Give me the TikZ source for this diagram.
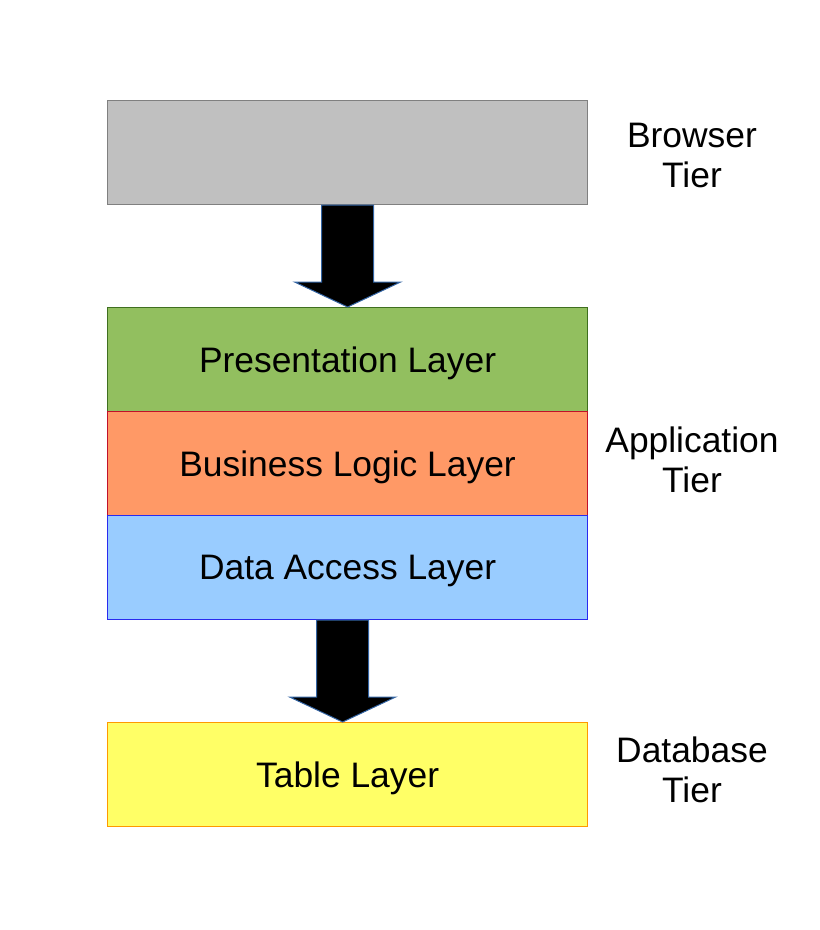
\documentclass[tikz,border=0pt]{standalone}
\usepackage{fontspec}
\setmainfont{Liberation Sans}
\usepackage{tikz}
\usetikzlibrary{calc}

\definecolor{browsergray}{HTML}{C0C0C0}
\definecolor{browseredge}{HTML}{808080}
\definecolor{presgreen}{HTML}{92BF5F}
\definecolor{presedge}{HTML}{3F6F1F}
\definecolor{bizorange}{HTML}{FF9966}
\definecolor{bizedge}{HTML}{C0102A}
\definecolor{datablue}{HTML}{99CCFF}
\definecolor{dataedge}{HTML}{2A2AEE}
\definecolor{tableyellow}{HTML}{FFFF66}
\definecolor{tableedge}{HTML}{FF9900}
\definecolor{arrowedge}{HTML}{3465A4}

\tikzset{
    layerbox/.style={draw, line width=1.2pt, minimum width=480pt, minimum height=104pt, inner sep=0pt, text depth=0pt, anchor=north west},
    tierlabel/.style={align=center},
    blockarrow/.style={fill=black, draw=arrowedge, line width=1pt, line join=miter}
}

\begin{document}
\begin{tikzpicture}[x=1pt, y=-1pt, font=\fontsize{35.4}{40}\selectfont]
    \useasboundingbox (0,0) rectangle (820,930);

    % Browser tier
    \node[layerbox, fill=browsergray, draw=browseredge] (browser) at (107,100) {};

    % Application tier layers
    \node[layerbox, fill=presgreen, draw=presedge] (pres) at (107,307) {Presentation Layer};
    \node[layerbox, fill=bizorange, draw=bizedge] (biz) at (107,411) {Business Logic Layer};
    \node[layerbox, fill=datablue, draw=dataedge] (data) at (107,515) {Data Access Layer};

    % Database tier
    \node[layerbox, fill=tableyellow, draw=tableedge] (table) at (107,722) {Table Layer};

    % Big arrows between the tiers
    \draw[blockarrow] ($(browser.south)+(-26,0)$) -- ($(browser.south)+(26,0)$)
        -- ($(pres.north)+(26,-25)$) -- ($(pres.north)+(53,-25)$)
        -- (pres.north) -- ($(pres.north)+(-53,-25)$)
        -- ($(pres.north)+(-26,-25)$) -- cycle;
    \draw[blockarrow] ($(data.south)+(-31,0)$) -- ($(data.south)+(21,0)$)
        -- ($(table.north)+(21,-25)$) -- ($(table.north)+(48,-25)$)
        -- ($(table.north)+(-5,0)$) -- ($(table.north)+(-58,-25)$)
        -- ($(table.north)+(-31,-25)$) -- cycle;

    % Tier labels
    \node[tierlabel] (browsertier) at (692,155) {Browser\\Tier};
    \node[tierlabel] (apptier) at (692,460) {Application\\Tier};
    \node[tierlabel] (dbtier) at (692,770) {Database\\Tier};

\end{tikzpicture}
\end{document}
